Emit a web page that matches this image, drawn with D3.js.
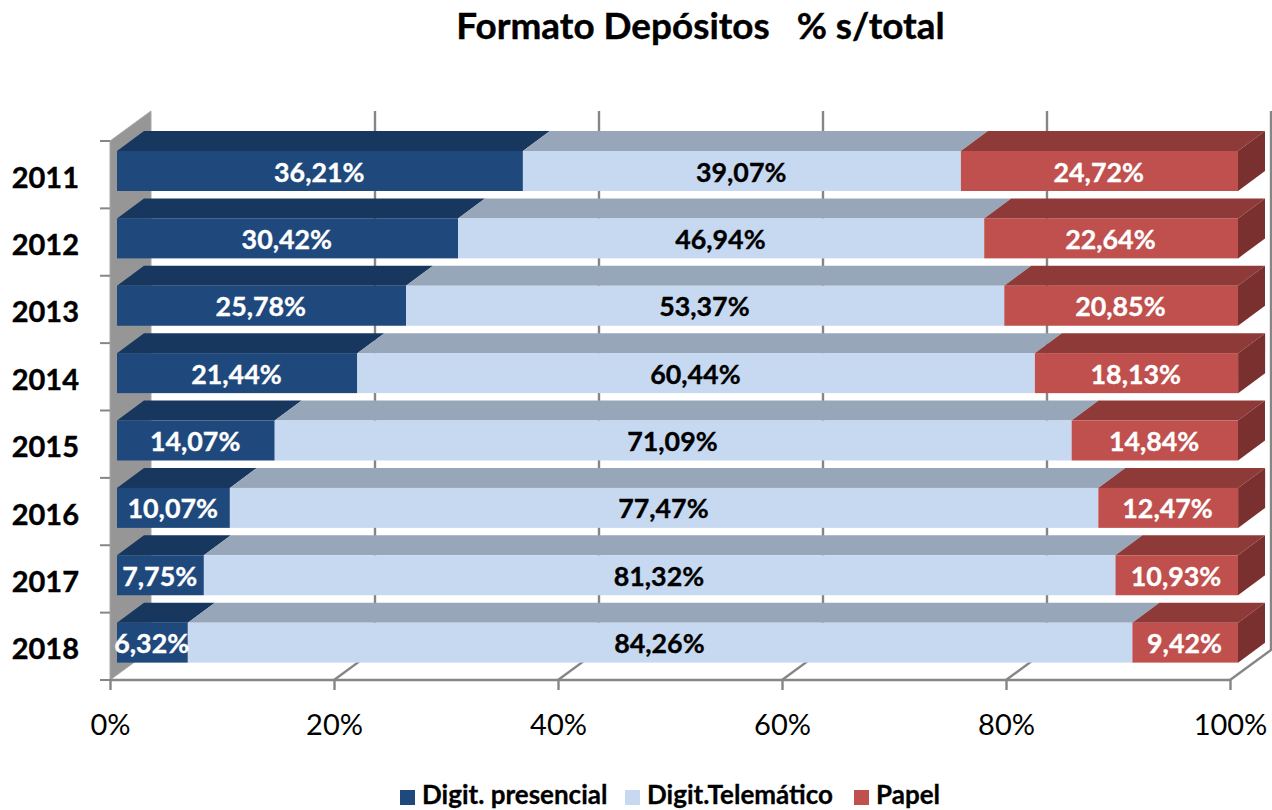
<!DOCTYPE html>
<html><head><meta charset="utf-8">
<script src="https://cdn.jsdelivr.net/npm/d3@7/dist/d3.min.js"></script>
<style>html,body{margin:0;padding:0;background:#fff}svg{display:block}text{font-family:Lato,Carlito,sans-serif;white-space:pre}</style>
</head><body><svg id="c" width="1272" height="810"></svg>
<script>
const years = ["2011","2012","2013","2014","2015","2016","2017","2018"];
const presencial = [36.21,30.42,25.78,21.44,14.07,10.07,7.75,6.32];
const telematico = [39.07,46.94,53.37,60.44,71.09,77.47,81.32,84.26];
const papel = [24.72,22.64,20.85,18.13,14.84,12.47,10.93,9.42];
const seriesNames = ["Digit. presencial","Digit.Telemático","Papel"];
const seriesValues = [presencial,telematico,papel];
const axisTicks = [0,20,40,60,80,100];
const front = ["#1F497D","#C6D9F1","#C0504D"];
const topc = ["#17375E","#98A6B9","#8E3A38"];
const labelc = ["#fff","#000","#fff"];
const sideC = "#7A302E", wall = "#969696", gridC = "#868686";
const fmt = v => v.toFixed(2).replace(".",",")+"%";

const svg = d3.select("#c");
const x = d3.scaleLinear().domain([0,100]).range([110,1230]);     // front floor edge
const xBar = d3.scaleLinear().domain([0,100]).range([117,1238]);  // front of the bars
const y = d3.scaleBand().domain(years).range([141,680]);
const wd = 41, wh = 30;   // wall depth
const bd = 27, bh = 20;   // bar depth
const barOff = 10, barH = 40;
const y0 = y.range()[0], y1 = y.range()[1];
const poly = pts => pts.map(p=>p.join(",")).join(" ");

svg.append("text").attr("x",700.5).attr("y",38.5).attr("text-anchor","middle")
  .attr("font-size",36.9).attr("font-weight",700).attr("fill","#000")
  .attr("stroke","#000").attr("stroke-width",0.4).text("Formato Depósitos   % s/total");

// side wall
svg.append("polygon").attr("fill",wall).attr("stroke","#a8a8a8").attr("stroke-width",1)
  .attr("points",poly([[x(0),y0],[x(0)+wd,y0-wh],[x(0)+wd,y1-wh],[x(0),y1]]));

// back gridlines and floor lines
const g = svg.append("g").attr("fill","none").attr("stroke",gridC).attr("stroke-width",2.4);
axisTicks.filter(t=>t>0).forEach(t=>{
  g.append("polyline").attr("points",poly([[x(t),y1],[x(t)+wd,y1-wh],[x(t)+wd,y0-wh]]));
});

// axes
const ax = svg.append("g").attr("transform",`translate(0,${y1})`)
  .call(d3.axisBottom(x).tickValues(axisTicks).tickSize(10).tickFormat(d=>d+"%").tickPadding(24));
ax.select(".domain").attr("stroke",gridC).attr("stroke-width",2.4).attr("d",`M${x(0)},0H${x(100)}`);
ax.selectAll(".tick line").attr("stroke",gridC).attr("stroke-width",2.4);
ax.selectAll(".tick text").attr("font-size",29).attr("fill","#000").style("font-family","Lato,Carlito,sans-serif");

const ay = svg.append("g");
[...years.map(d=>y(d)),y1].forEach(v=>{
  ay.append("line").attr("x1",100).attr("x2",x(0)).attr("y1",v).attr("y2",v).attr("stroke",gridC).attr("stroke-width",2);
});
years.forEach(d=>{
  ay.append("text").attr("x",79).attr("y",y(d)+y.step()/2+13).attr("text-anchor","end")
    .attr("font-size",29).attr("font-weight",700).attr("fill","#000")
    .attr("stroke","#000").attr("stroke-width",0.4).text(d);
});

// bars
years.forEach((yr,i)=>{
  const top = y(yr)+barOff;
  let c = 0;
  const row = svg.append("g");
  seriesValues.forEach((vals,s)=>{
    const a = xBar(c), b = xBar(c+vals[i]);
    row.append("polygon").attr("fill",topc[s])
      .attr("points",poly([[a,top],[a+bd,top-bh],[b+bd,top-bh],[b,top]]));
    row.append("rect").attr("x",a).attr("y",top).attr("width",b-a).attr("height",barH).attr("fill",front[s]);
    if(s===seriesValues.length-1){
      row.append("polygon").attr("fill",sideC)
        .attr("points",poly([[b,top],[b+bd,top-bh],[b+bd,top-bh+barH],[b,top+barH]]));
    }
    c += vals[i];
  });
  c = 0;
  seriesValues.forEach((vals,s)=>{
    row.append("text").attr("x",(xBar(c)+xBar(c+vals[i]))/2-0.7).attr("y",top+barH/2+10.5)
      .attr("text-anchor","middle").attr("font-size",26.8).attr("font-weight",700)
      .attr("fill",labelc[s]).attr("stroke",labelc[s]).attr("stroke-width",0.35).text(fmt(vals[i]));
    c += vals[i];
  });
});

// legend
const legendX = [400,625,854];
seriesNames.forEach((n,i)=>{
  svg.append("rect").attr("x",legendX[i]).attr("y",790).attr("width",15).attr("height",15).attr("fill",front[i]);
  svg.append("text").attr("x",legendX[i]+22).attr("y",803.5).attr("font-size",26)
    .attr("font-weight",700).attr("fill","#000").attr("stroke","#000").attr("stroke-width",0.3).text(n);
});
</script></body></html>
